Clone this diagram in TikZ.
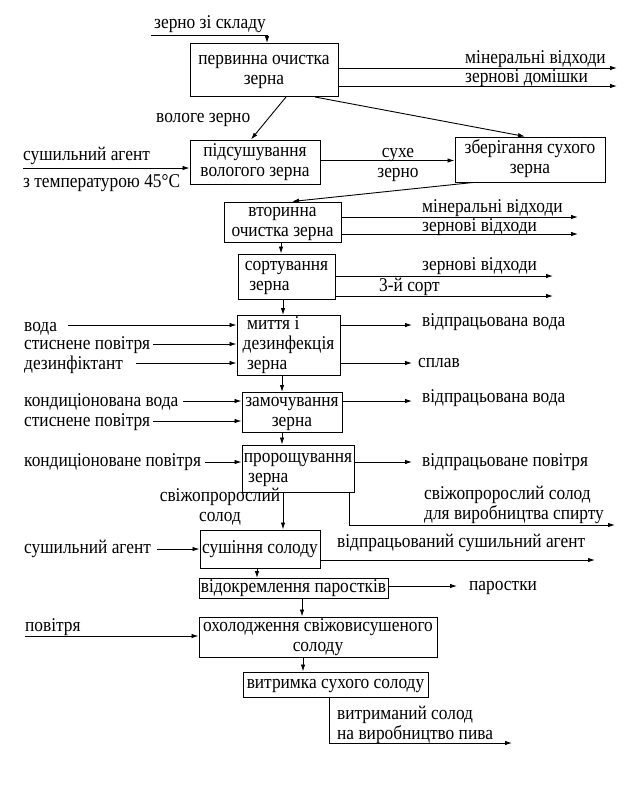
\documentclass[tikz,border=0pt]{standalone}
\usepackage{fontspec}
\setmainfont{Liberation Serif}[FakeStretch=0.89]
\usetikzlibrary{arrows.meta}
\begin{document}
\begin{tikzpicture}[x=1pt,y=-1pt,
  every node/.style={font=\fontsize{19.5}{20}\selectfont},
  proc/.style={draw,line width=1pt,inner sep=0pt,align=center},
  procl/.style={draw,line width=1pt,inner sep=0pt,align=left},
  lbl/.style={anchor=west,inner sep=0pt,text height=13pt,text depth=4.3pt},
  lblc/.style={inner sep=0pt,align=center},
  lbll/.style={anchor=west,inner sep=0pt,align=left},
  arr/.style={line width=0.9pt,-{Latex[length=7pt,width=4.5pt]}},
  ln/.style={line width=0.9pt}]
\useasboundingbox (0,0) rectangle (642,803);
\fill[white] (0,0) rectangle (642,803);

% boxes
\node[proc,minimum width=148pt,minimum height=53pt] (b1) at (264,70) {\strut первинна очистка\\\strut зерна};
\node[proc,minimum width=130pt,minimum height=44pt] (b2) at (255,162) {\strut підсушування\\\strut вологого зерна};
\node[proc,minimum width=150pt,minimum height=45pt] (b3) at (530,159.5) {\strut зберігання сухого\\\strut зерна};
\node[proc,minimum width=117pt,minimum height=40pt] (b4) at (282.5,222) {\strut вторинна\\\strut очистка зерна};
\node[procl,minimum width=97pt,minimum height=45pt] (b5) at (286.5,276.5) {\strut сортування\\\strut\ зерна};
\node[procl,minimum width=103pt,minimum height=59pt] (b6) at (288.5,345.5) {\strut\ миття і\\\strut дезинфекція\\\strut\ зерна};
\node[proc,minimum width=100pt,minimum height=39pt] (b7) at (292,412.5) {\strut замочування\\\strut зерна};
\node[procl,minimum width=112pt,minimum height=47pt] (b8) at (298,468.5) {\strut пророщування\\\strut\ зерна};
\node[proc,minimum width=120pt,minimum height=38pt] (b9) at (260,549) {\strut сушіння солоду};
\node[proc,minimum width=189pt,minimum height=20pt] (b10) at (293.5,588.5) {\strut відокремлення паростків};
\node[proc,minimum width=238pt,minimum height=40pt] (b11) at (318,637) {\strut охолодження свіжовисушеного\\\strut солоду};
\node[proc,minimum width=185pt,minimum height=25pt] (b12) at (335.5,684.5) {\strut витримка сухого солоду};

% labels
\node[lbl] (t1) at (154,24) {зерно зі складу};
\node[lbl] (t2) at (465,59) {мінеральні відходи};
\node[lbl] (t3) at (465,78) {зернові домішки};
\node[lbl] (t4) at (156,118) {вологе зерно};
\node[lbl] (t5) at (23,156) {сушильний агент};
\node[lbl] (t6) at (23,183) {з температурою 45°C};
\node[lblc] (t7) at (398,163.5) {\strut сухе\\\strut зерно};
\node[lbl] (t8) at (422,208) {мінеральні відходи};
\node[lbl] (t9) at (422,227) {зернові відходи};
\node[lbl] (t10) at (422,266) {зернові відходи};
\node[lbl] (t11) at (379,287) {3-й сорт};
\node[lbl] (t12) at (24,327) {вода};
\node[lbl] (t13) at (24,345) {стиснене повітря};
\node[lbl] (t14) at (24,365) {дезинфіктант};
\node[lbl] (t15) at (422,322) {відпрацьована вода};
\node[lbl] (t16) at (418,363) {сплав};
\node[lbl] (t17) at (24,402) {кондиціонована вода};
\node[lbl] (t18) at (24,422) {стиснене повітря};
\node[lbl] (t19) at (422,398) {відпрацьована вода};
\node[lbl] (t20) at (24,462) {кондиціоноване повітря};
\node[lbl] (t21) at (422,462) {відпрацьоване повітря};
\node[lblc] (t22) at (220,507) {\strut свіжопророслий\\\strut солод};
\node[lbll] (t23) at (424,505) {\strut свіжопророслий солод\\\strut для виробництва спирту};
\node[lbl] (t24) at (24,549) {сушильний агент};
\node[lbl] (t25) at (337,543) {відпрацьований сушильний агент};
\node[lbl] (t26) at (469,586) {паростки};
\node[lbl] (t27) at (25,627) {повітря};
\node[lbll] (t28) at (337,725.5) {\strut витриманий солод\\\strut на виробництво пива};

% connector ends
\coordinate (c1) at (151,35);
\coordinate (c1e) at (267,35);
\coordinate (o1) at (617,68);
\coordinate (o2) at (617,86);
\coordinate (i2) at (23,168);
\coordinate (o3) at (578,217);
\coordinate (o4) at (578,234);
\coordinate (o5) at (553,276);
\coordinate (o6) at (553,296);
\coordinate (i6a) at (68,325);
\coordinate (i6b) at (153,344);
\coordinate (i6c) at (136,363);
\coordinate (o6a) at (412,325);
\coordinate (o6b) at (412,363);
\coordinate (i7a) at (183,401);
\coordinate (i7b) at (153,421);
\coordinate (o7) at (412,401);
\coordinate (i8) at (205,462);
\coordinate (o8) at (412,462);
\coordinate (s8) at (349,525);
\coordinate (o8b) at (615,525);
\coordinate (i9) at (157,549);
\coordinate (o9) at (595,560);
\coordinate (o10) at (457,586);
\coordinate (i11) at (25,636);
\coordinate (s12) at (329,743);
\coordinate (o12) at (512,743);

% connectors
\draw[arr] (c1) -- (c1e) -- (c1e |- b1.north);
\draw[arr] (o1 -| b1.east) -- (o1);
\draw[arr] (o2 -| b1.east) -- (o2);
\draw[arr] ([xshift=22pt]b1.south) -- ([xshift=-4pt]b2.north);
\draw[arr] ([xshift=51pt]b1.south) -- ([xshift=-5pt]b3.north);
\draw[arr] (i2) -- (i2 -| b2.west);
\draw[arr] ([yshift=1.5pt]b2.east) -- ([yshift=1.5pt]b2.east -| b3.west);
\draw[arr] ([xshift=-57pt]b3.south) -- ([xshift=9.5pt]b4.north);
\draw[arr] (o3 -| b4.east) -- (o3);
\draw[arr] (o4 -| b4.east) -- (o4);
\draw[arr] ([xshift=-1.5pt]b4.south) -- ([xshift=-1.5pt]b4.south |- b5.north);
\draw[arr] (o5 -| b5.east) -- (o5);
\draw[arr] (o6 -| b5.east) -- (o6);
\draw[arr] ([xshift=-3.5pt]b5.south) -- ([xshift=-3.5pt]b5.south |- b6.north);
\draw[arr] (i6a) -- (i6a -| b6.west);
\draw[arr] (i6b) -- (i6b -| b6.west);
\draw[arr] (i6c) -- (i6c -| b6.west);
\draw[arr] (o6a -| b6.east) -- (o6a);
\draw[arr] (o6b -| b6.east) -- (o6b);
\draw[arr] ([xshift=-6.5pt]b6.south) -- ([xshift=-6.5pt]b6.south |- b7.north);
\draw[arr] (i7a) -- (i7a -| b7.west);
\draw[arr] (i7b) -- (i7b -| b7.west);
\draw[arr] (o7 -| b7.east) -- (o7);
\draw[arr] ([xshift=-10pt]b7.south) -- ([xshift=-10pt]b7.south |- b8.north);
\draw[arr] (i8) -- (i8 -| b8.west);
\draw[arr] (o8 -| b8.east) -- (o8);
\draw[arr] ([xshift=-15pt]b8.south) -- ([xshift=-15pt]b8.south |- b9.north);
\draw[arr] (s8 |- b8.south) -- (s8) -- (o8b);
\draw[arr] (i9) -- (i9 -| b9.west);
\draw[arr] (o9 -| b9.east) -- (o9);
\draw[arr] ([xshift=-3pt]b9.south) -- ([xshift=-3pt]b9.south |- b10.north);
\draw[arr] (o10 -| b10.east) -- (o10);
\draw[arr] ([xshift=8.5pt]b10.south) -- ([xshift=8.5pt]b10.south |- b11.north);
\draw[arr] (i11) -- (i11 -| b11.west);
\draw[arr] ([xshift=-15pt]b11.south) -- ([xshift=-15pt]b11.south |- b12.north);
\draw[arr] (s12 |- b12.south) -- (s12) -- (o12);
\end{tikzpicture}
\end{document}
